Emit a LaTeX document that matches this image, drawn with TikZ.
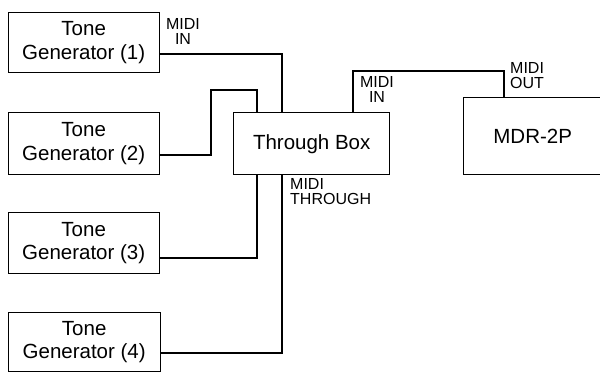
\documentclass[tikz,border=0pt]{standalone}
\usepackage{fontspec}
\setmainfont{Liberation Sans}
\begin{document}
\begin{tikzpicture}[x=1pt,y=-1pt,
  blk/.style={draw, line width=1.4pt, minimum width=#1, inner sep=0pt, align=center, font=\fontsize{20.5}{23.5}\selectfont},
  blk/.default=150pt,
  wire/.style={line width=1.1pt},
  lbl/.style={font=\fontsize{16}{15.5}\selectfont, inner sep=0pt, align=left}]
\useasboundingbox (0,0) rectangle (600,373);
\node[blk=151pt, minimum height=60pt, anchor=north west] (tg1) at (7.5,12) {Tone\\Generator (1)};
\node[blk=151pt, minimum height=62pt, anchor=north west] (tg2) at (7.5,112) {Tone\\Generator (2)};
\node[blk=151pt, minimum height=61pt, anchor=north west] (tg3) at (7.5,212) {Tone\\Generator (3)};
\node[blk=152pt, minimum height=59pt, anchor=north west] (tg4) at (7.5,312) {Tone\\Generator (4)};
\node[blk=156pt, minimum height=62pt, anchor=north west] (tb) at (233,112) {Through Box};
\node[blk=138pt, minimum height=77pt, anchor=north west] (mdr) at (463,97) {MDR-2P};
\coordinate (a1) at (282,54);
\coordinate (b1) at (211,155);
\coordinate (b2) at (211,90);
\coordinate (b3) at (257,90);
\coordinate (c1) at (257,258);
\coordinate (d1) at (282,353);
\coordinate (e1) at (353,71);
\coordinate (e2) at (504,71);
\draw[wire] (tg1.east |- a1) -- (a1) -- (a1 |- tb.north);
\draw[wire] (tg2.east |- b1) -- (b1) -- (b2) -- (b3) -- (b3 |- tb.north);
\draw[wire] (tg3.east |- c1) -- (c1) -- (c1 |- tb.south);
\draw[wire] (tg4.east |- d1) -- (d1) -- (d1 |- tb.south);
\draw[wire] (e1 |- tb.north) -- (e1) -- (e2) -- (e2 |- mdr.north);
\node[lbl, align=center, anchor=north] (l1) at (183,18) {MIDI\\IN};
\node[lbl, align=center, anchor=north] (l2) at (377,76) {MIDI\\IN};
\node[lbl, anchor=north west] (l3) at (510,62) {MIDI\\OUT};
\node[lbl, anchor=north west] (l4) at (290,178) {MIDI\\THROUGH};
\end{tikzpicture}
\end{document}
